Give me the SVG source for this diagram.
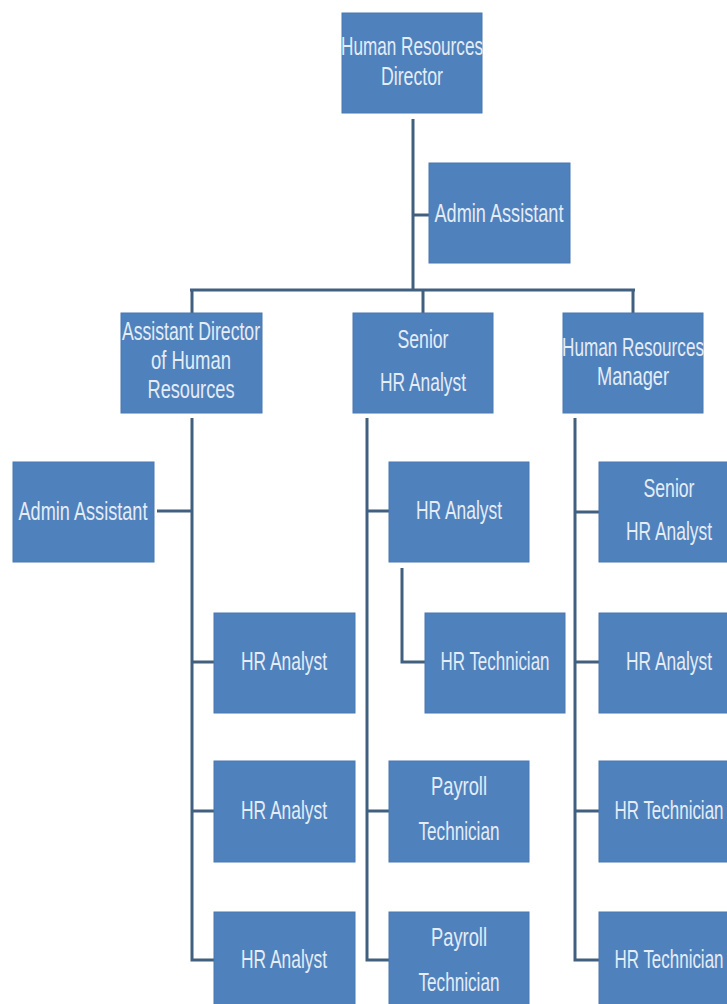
<svg xmlns="http://www.w3.org/2000/svg" width="727" height="1004" viewBox="0 0 727 1004">
<style>
.box{fill:#4f81bd;stroke:#4a78b0;stroke-width:1}
.t{font-family:"Liberation Sans",Arial,sans-serif;font-size:26px;fill:#e4ecf6;text-anchor:middle}
.c{fill:none;stroke:#41607f;stroke-width:3}
</style>
<rect width="727" height="1004" fill="#ffffff"/>
<g id="connectors">
<path class="c" d="M413 119V290M190 290H635M192 290V313M423 290V313M633 290V313"/>
<path class="c" d="M413 215H429"/>
<path class="c" d="M192 418V960H214M157 511H192M192 662H214M192 811H214"/>
<path class="c" d="M367 418V960H389M367 511H389M367 811H389M402 568V662H425"/>
<path class="c" d="M575 418V960H599M575 512H599M575 662H599M575 811H599"/>
</g>
<g id="hr-director"><rect class="box" x="342" y="13" width="140" height="100"/><text class="t" x="412" y="55" textLength="142" lengthAdjust="spacingAndGlyphs">Human Resources</text><text class="t" x="412" y="85" textLength="62" lengthAdjust="spacingAndGlyphs">Director</text></g>
<g id="admin-assistant-top"><rect class="box" x="429" y="163" width="141" height="100"/><text class="t" x="499" y="222" textLength="129" lengthAdjust="spacingAndGlyphs">Admin Assistant</text></g>
<g id="asst-director"><rect class="box" x="121" y="313" width="141" height="100"/><text class="t" x="191" y="340" textLength="138" lengthAdjust="spacingAndGlyphs">Assistant Director</text><text class="t" x="191" y="369" textLength="80" lengthAdjust="spacingAndGlyphs">of Human</text><text class="t" x="191" y="398" textLength="87" lengthAdjust="spacingAndGlyphs">Resources</text></g>
<g id="senior-hr-analyst"><rect class="box" x="353" y="313" width="140" height="100"/><text class="t" x="423" y="348" textLength="51" lengthAdjust="spacingAndGlyphs">Senior</text><text class="t" x="423" y="391" textLength="86" lengthAdjust="spacingAndGlyphs">HR Analyst</text></g>
<g id="hr-manager"><rect class="box" x="563" y="313" width="140" height="100"/><text class="t" x="633" y="356" textLength="142" lengthAdjust="spacingAndGlyphs">Human Resources</text><text class="t" x="633" y="385" textLength="72" lengthAdjust="spacingAndGlyphs">Manager</text></g>
<g id="admin-assistant-left"><rect class="box" x="13" y="462" width="141" height="100"/><text class="t" x="83" y="520" textLength="129" lengthAdjust="spacingAndGlyphs">Admin Assistant</text></g>
<g id="left-hr-analyst-1"><rect class="box" x="214" y="613" width="141" height="100"/><text class="t" x="284" y="670" textLength="86" lengthAdjust="spacingAndGlyphs">HR Analyst</text></g>
<g id="left-hr-analyst-2"><rect class="box" x="214" y="761" width="141" height="101"/><text class="t" x="284" y="819" textLength="86" lengthAdjust="spacingAndGlyphs">HR Analyst</text></g>
<g id="left-hr-analyst-3"><rect class="box" x="214" y="912" width="141" height="100"/><text class="t" x="284" y="968" textLength="86" lengthAdjust="spacingAndGlyphs">HR Analyst</text></g>
<g id="mid-hr-analyst"><rect class="box" x="389" y="462" width="140" height="100"/><text class="t" x="459" y="519" textLength="86" lengthAdjust="spacingAndGlyphs">HR Analyst</text></g>
<g id="mid-hr-technician"><rect class="box" x="425" y="613" width="140" height="100"/><text class="t" x="495" y="670" textLength="109" lengthAdjust="spacingAndGlyphs">HR Technician</text></g>
<g id="payroll-technician-1"><rect class="box" x="389" y="761" width="140" height="101"/><text class="t" x="459" y="795" textLength="56" lengthAdjust="spacingAndGlyphs">Payroll</text><text class="t" x="459" y="840" textLength="81" lengthAdjust="spacingAndGlyphs">Technician</text></g>
<g id="payroll-technician-2"><rect class="box" x="389" y="912" width="140" height="100"/><text class="t" x="459" y="946" textLength="56" lengthAdjust="spacingAndGlyphs">Payroll</text><text class="t" x="459" y="991" textLength="81" lengthAdjust="spacingAndGlyphs">Technician</text></g>
<g id="right-senior-hr-analyst"><rect class="box" x="599" y="462" width="140" height="100"/><text class="t" x="669" y="497" textLength="51" lengthAdjust="spacingAndGlyphs">Senior</text><text class="t" x="669" y="540" textLength="86" lengthAdjust="spacingAndGlyphs">HR Analyst</text></g>
<g id="right-hr-analyst"><rect class="box" x="599" y="613" width="140" height="100"/><text class="t" x="669" y="670" textLength="86" lengthAdjust="spacingAndGlyphs">HR Analyst</text></g>
<g id="right-hr-technician-1"><rect class="box" x="599" y="761" width="140" height="101"/><text class="t" x="669" y="819" textLength="109" lengthAdjust="spacingAndGlyphs">HR Technician</text></g>
<g id="right-hr-technician-2"><rect class="box" x="599" y="912" width="140" height="100"/><text class="t" x="669" y="968" textLength="109" lengthAdjust="spacingAndGlyphs">HR Technician</text></g>
</svg>
